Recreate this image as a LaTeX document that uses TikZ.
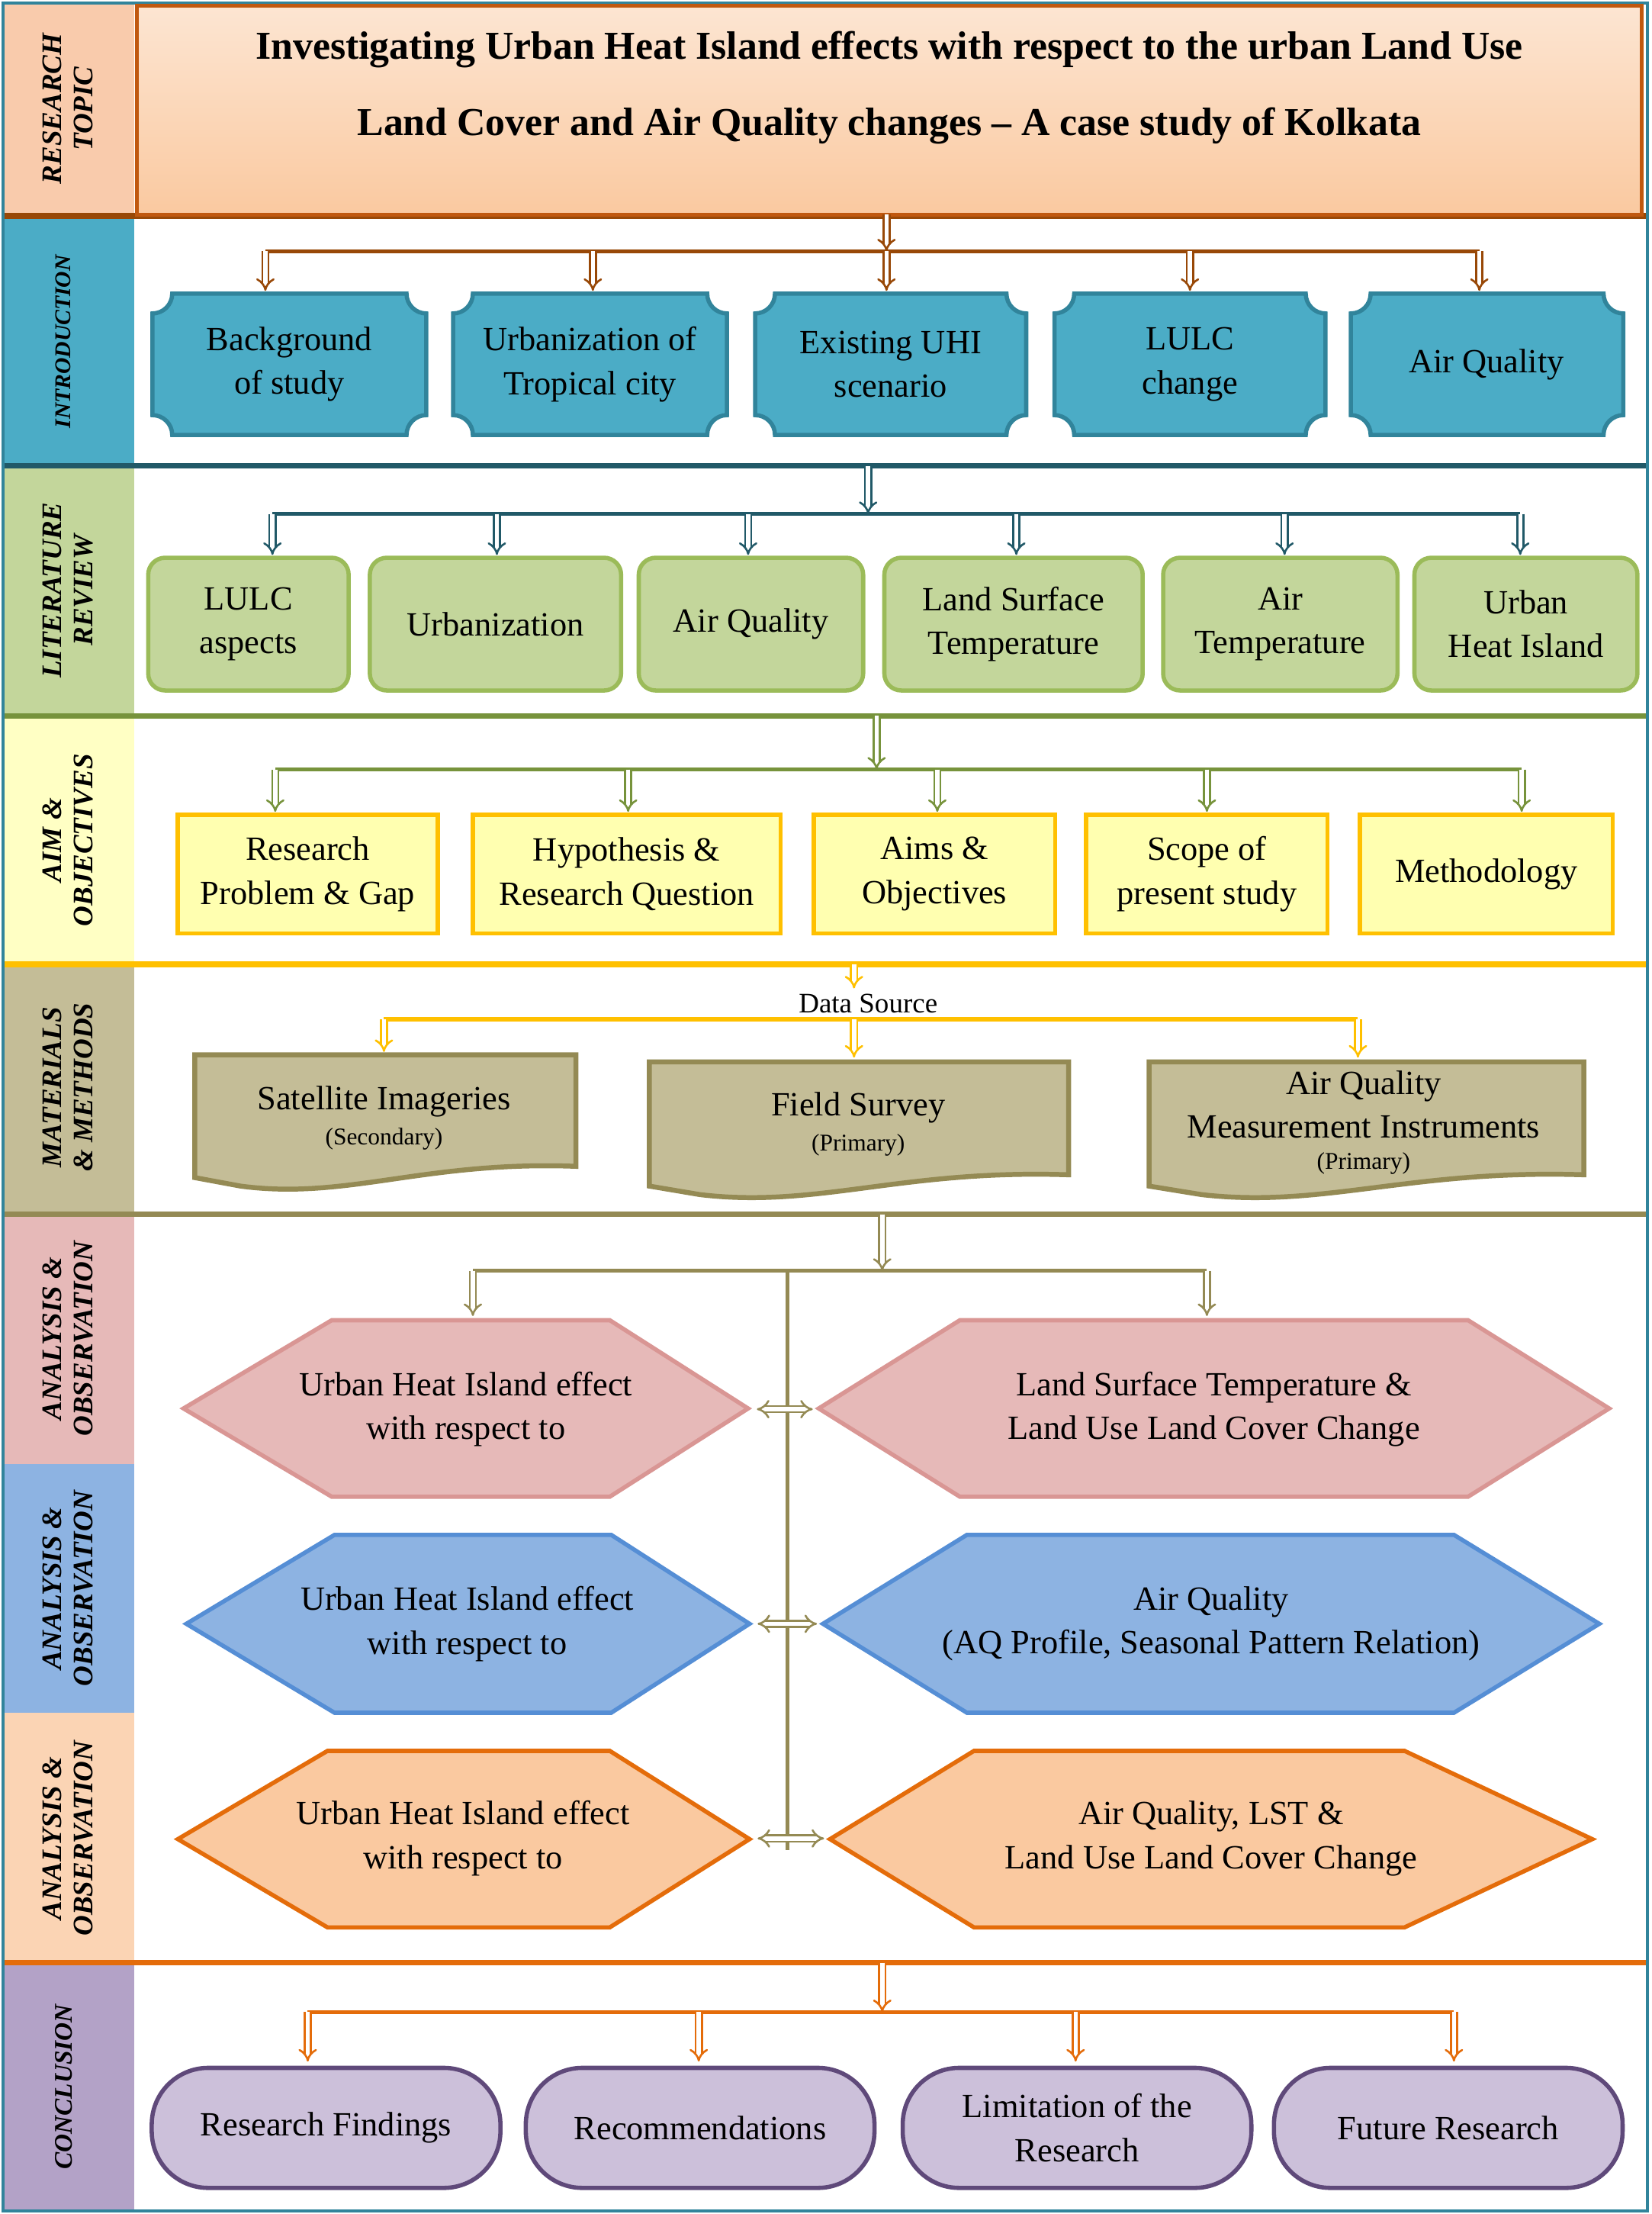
\documentclass[tikz,border=0pt]{standalone}
\usepackage{fontspec}
\setmainfont{Liberation Serif}
\usetikzlibrary{arrows.meta,calc}
\definecolor{cPeach}{HTML}{F9CBAC}
\definecolor{cTeal}{HTML}{4BACC6}
\definecolor{cTealD}{HTML}{31849B}
\definecolor{cTealDD}{HTML}{215968}
\definecolor{cGreen}{HTML}{C3D69B}
\definecolor{cGreenB}{HTML}{9BBB59}
\definecolor{cGreenD}{HTML}{77933C}
\definecolor{cYel}{HTML}{FFFFC4}
\definecolor{cYelF}{HTML}{FFFFB0}
\definecolor{cGold}{HTML}{FFC000}
\definecolor{cOl}{HTML}{C4BD97}
\definecolor{cOlD}{HTML}{948A54}
\definecolor{cPink}{HTML}{E6B9B8}
\definecolor{cPinkB}{HTML}{D99694}
\definecolor{cBlue}{HTML}{8DB3E2}
\definecolor{cBlueB}{HTML}{558ED5}
\definecolor{cOr}{HTML}{FBD4B4}
\definecolor{cOrF}{HTML}{FAC9A0}
\definecolor{cOrB}{HTML}{E46C0A}
\definecolor{cLav}{HTML}{B3A2C7}
\definecolor{cLavF}{HTML}{CCC0DA}
\definecolor{cLavB}{HTML}{5F497A}
\definecolor{cBrown}{HTML}{984807}
\definecolor{cTitB}{HTML}{C0580F}
\tikzset{
  lab/.style={rotate=90,font=\fontsize{20}{22}\selectfont\bfseries\itshape,align=center},
  txt/.style={font=\fontsize{24}{31}\selectfont,align=center,inner sep=0pt},
  darr/.style={double distance=3pt,line width=1.4pt,-{Implies},draw=#1},
  bar/.style={line width=3pt,draw=#1},
  sep/.style={line width=4pt,draw=#1},
}
\newcommand\plq[4]{% x1 y1 x2 y2
 \draw[fill=cTeal,draw=cTealD,line width=3pt]
  (#1+14,#2) -- (#3-14,#2) .. controls (#3-14,#2+7.7) and (#3-7.7,#2+14) .. (#3,#2+14)
  -- (#3,#4-14) .. controls (#3-7.7,#4-14) and (#3-14,#4-7.7) .. (#3-14,#4)
  -- (#1+14,#4) .. controls (#1+14,#4-7.7) and (#1+7.7,#4-14) .. (#1,#4-14)
  -- (#1,#2+14) .. controls (#1+7.7,#2+14) and (#1+14,#2+7.7) .. cycle;}
\newcommand\hexa[8]{% x1 xa xb x2 y1 y2 fill draw
 \draw[fill=#7,draw=#8,line width=3pt] (#1,{(#5+#6)/2}) -- (#2,#5) -- (#3,#5) -- (#4,{(#5+#6)/2}) -- (#3,#6) -- (#2,#6) -- cycle;}
\newcommand\docu[4]{% x1 y1 x2 y2
 \draw[fill=cOl,draw=cOlD,line width=3.5pt] (#1,#2) -- (#3,#2) -- (#3,#4-16)
  .. controls ({#1+0.6*(#3-#1)},#4-20) and ({#1+0.4*(#3-#1)},#4+8) .. ({#1+0.12*(#3-#1)},#4-2)
  -- (#1,#4-8) -- cycle;}
\begin{document}
\begin{tikzpicture}[x=1pt,y=-1pt]
\useasboundingbox (0,0) rectangle (1170,1568);
% left bands
\fill[cPeach] (2,2) rectangle (95,153);
\fill[cTeal] (2,153) rectangle (95,330);
\fill[cGreen] (2,330) rectangle (95,507);
\fill[cYel] (2,507) rectangle (95,683);
\fill[cOl] (2,683) rectangle (95,860);
\fill[cPink] (2,860) rectangle (95,1037);
\fill[cBlue] (2,1037) rectangle (95,1213);
\fill[cOr] (2,1213) rectangle (95,1390);
\fill[cLav] (2,1390) rectangle (95,1566);
\node[lab] (L1) at (48,77) {RESEARCH\\TOPIC};
\node[lab,font=\fontsize{16}{18}\selectfont\bfseries\itshape] (L2) at (45,242) {INTRODUCTION};
\node[lab] (L3) at (48,418) {LITERATURE\\REVIEW};
\node[lab] (L4) at (48,595) {AIM \&\\OBJECTIVES};
\node[lab] (L5) at (48,770) {MATERIALS\\\& METHODS};
\node[lab] (L6) at (48,948) {ANALYSIS \&\\OBSERVATION};
\node[lab] (L7) at (48,1125) {ANALYSIS \&\\OBSERVATION};
\node[lab] (L8) at (48,1302) {ANALYSIS \&\\OBSERVATION};
\node[lab,font=\fontsize{18}{20}\selectfont\bfseries\itshape] (L9) at (45,1478) {CONCLUSION};
% separators
\draw[sep=cBrown] (2,153) -- (1167,153);
\draw[sep=cTealDD] (2,330) -- (1167,330);
\draw[sep=cGreenD] (2,507) -- (1167,507);
\draw[sep=cGold] (2,683) -- (1167,683);
\draw[sep=cOlD] (2,860) -- (1167,860);
\draw[sep=cOrB] (2,1390) -- (1167,1390);
\draw[cTealD,line width=2pt] (2,2) rectangle (1167,1566);
% title
\draw[top color=cOr!60,bottom color=cOrF,draw=cTitB,line width=3pt] (97,4) rectangle (1163,152);
\node[font=\fontsize{28}{54}\selectfont\bfseries,align=center] (T) at (630,62) {Investigating Urban Heat Island effects with respect to the urban Land Use\\Land Cover and Air Quality changes -- A case study of Kolkata};
\coordinate (Tb) at (628,152);
% introduction
\plq{108}{208}{302}{308}\plq{321}{208}{515}{308}\plq{535}{208}{727}{308}\plq{747}{208}{939}{308}\plq{957}{208}{1150}{308}
\node[txt,minimum width=194,minimum height=100] (i1) at (205,258) {Background\\of study};
\node[txt,minimum width=194,minimum height=100] (i2) at (418,258) {Urbanization of\\Tropical city};
\node[txt,minimum width=192,minimum height=100] (i3) at (631,258) {Existing UHI\\scenario};
\node[txt,minimum width=192,minimum height=100] (i4) at (843,258) {LULC\\change};
\node[txt,minimum width=193,minimum height=100] (i5) at (1053,258) {Air Quality};
\coordinate (ih) at (628,178);
\draw[darr=cBrown] (Tb) -- (ih);
\draw[bar=cBrown] (188,178) -- (1048,178);
\foreach \n/\x in {i1/188,i2/420,i3/628,i4/843,i5/1048}{\coordinate (c\n) at (\x,178); \draw[darr=cBrown] (c\n) -- (\x,206);}
% literature
\foreach \n/\x/\w/\t in {l1/176/142/{LULC\\aspects},l2/351/178/{Urbanization},l3/532/159/{Air Quality},l4/718/183/{Land Surface\\Temperature},l5/907/166/{Air\\Temperature},l6/1081/158/{Urban\\Heat Island}}{
 \node[txt,minimum width=\w,minimum height=94,fill=cGreen,draw=cGreenB,line width=3pt,rounded corners=12] (\n) at (\x,442) {\t};}
\coordinate (ls) at (615,330); \coordinate (lh) at (615,364);
\draw[darr=cTealDD] (ls) -- (lh);
\draw[bar=cTealDD] (193,364) -- (1077,364);
\foreach \n/\x in {l1/193,l2/352,l3/530,l4/720,l5/910,l6/1077}{\coordinate (c\n) at (\x,364); \draw[darr=cTealDD] (c\n) -- (\x,393);}
% aims
\foreach \n/\x/\w/\t in {a1/218/184/{Research\\Problem \& Gap},a2/444/218/{Hypothesis \&\\Research Question},a3/662/171/{Aims \&\\Objectives},a4/855/171/{Scope of\\present study},a5/1053/179/{Methodology}}{
 \node[txt,minimum width=\w,minimum height=84,fill=cYelF,draw=cGold,line width=3pt] (\n) at (\x,619) {\t};}
\coordinate (as) at (621,507); \coordinate (ah) at (621,545);
\draw[darr=cGreenD] (as) -- (ah);
\draw[bar=cGreenD] (195,545) -- (1078,545);
\foreach \n/\x in {a1/195,a2/445,a3/664,a4/855,a5/1078}{\coordinate (c\n) at (\x,545); \draw[darr=cGreenD] (c\n) -- (\x,575);}
% materials
\docu{138}{747}{408}{842}\docu{460}{752}{757}{848}\docu{814}{752}{1122}{848}
\node[txt] (d1) at (272,792) {Satellite Imageries\\[-6pt]{\fontsize{17}{20}\selectfont(Secondary)}};
\node[txt] (d2) at (608,796) {Field Survey\\[-6pt]{\fontsize{17}{20}\selectfont(Primary)}};
\node[txt] (d3) at (966,795) {Air Quality\\Measurement Instruments\\[-9pt]{\fontsize{17}{20}\selectfont(Primary)}};
\node[font=\fontsize{20}{22}\selectfont,inner sep=1pt] (ds) at (615,711) {Data Source};
\coordinate (ms) at (605,683); \coordinate (mh) at (605,700);
\draw[darr=cGold] (ms) -- (mh);
\draw[bar=cGold] (272,722) -- (962,722);
\coordinate (cd1) at (272,722); \coordinate (cd2) at (605,722); \coordinate (cd3) at (962,722);
\draw[darr=cGold] (cd1) -- (272,745);
\draw[darr=cGold] (cd2) -- (605,749);
\draw[darr=cGold] (cd3) -- (962,749);
% analysis
\hexa{130}{235}{432}{530}{935}{1060}{cPink}{cPinkB}
\hexa{580}{680}{1040}{1140}{935}{1060}{cPink}{cPinkB}
\hexa{132}{237}{433}{531}{1087}{1213}{cBlue}{cBlueB}
\hexa{583}{685}{1030}{1133}{1087}{1213}{cBlue}{cBlueB}
\hexa{126}{232}{432}{531}{1240}{1365}{cOrF}{cOrB}
\hexa{588}{690}{995}{1128}{1240}{1365}{cOrF}{cOrB}
\node[txt,minimum width=400,minimum height=125] (h1) at (330,998) {Urban Heat Island effect\\with respect to};
\node[txt,minimum width=560,minimum height=125] (h2) at (860,998) {Land Surface Temperature \&\\Land Use Land Cover Change};
\node[txt,minimum width=399,minimum height=126] (h3) at (331,1150) {Urban Heat Island effect\\with respect to};
\node[txt,minimum width=550,minimum height=126] (h4) at (858,1150) {Air Quality\\(AQ Profile, Seasonal Pattern Relation)};
\node[txt,minimum width=405,minimum height=125] (h5) at (328,1302) {Urban Heat Island effect\\with respect to};
\node[txt,minimum width=540,minimum height=125] (h6) at (858,1302) {Air Quality, LST \&\\Land Use Land Cover Change};
\coordinate (ns) at (625,860); \coordinate (nh) at (625,900);
\draw[darr=cOlD] (ns) -- (nh);
\draw[bar=cOlD] (335,900) -- (855,900);
\coordinate (vt) at (558,900); \coordinate (vb) at (558,1310);
\draw[cOlD,line width=2.5pt] (vt) -- (vb);
\coordinate (ch1) at (335,900); \coordinate (ch2) at (855,900);
\draw[darr=cOlD] (ch1) -- (335,932);
\draw[darr=cOlD] (ch2) -- (855,932);
\foreach \a/\b in {h1/h2,h3/h4,h5/h6}{\draw[double distance=3pt,line width=1.4pt,{Implies}-{Implies},draw=cOlD] ([xshift=6pt]\a.east) -- ([xshift=-4pt]\b.west);}
% conclusion
\foreach \n/\x/\t in {c1/231/{Research Findings},c2/496/{Recommendations},c3/763/{Limitation of the\\Research},c4/1026/{Future Research}}{
 \node[txt,minimum width=247,minimum height=85,fill=cLavF,draw=cLavB,line width=3pt,rounded corners=40] (\n) at (\x,1507) {\t};}
\coordinate (os) at (625,1390); \coordinate (oh) at (625,1425);
\draw[darr=cOrB] (os) -- (oh);
\draw[bar=cOrB] (218,1425) -- (1030,1425);
\foreach \n/\x in {c1/218,c2/495,c3/762,c4/1030}{\coordinate (k\n) at (\x,1425); \draw[darr=cOrB] (k\n) -- (\x,1460);}
\end{tikzpicture}
\end{document}
